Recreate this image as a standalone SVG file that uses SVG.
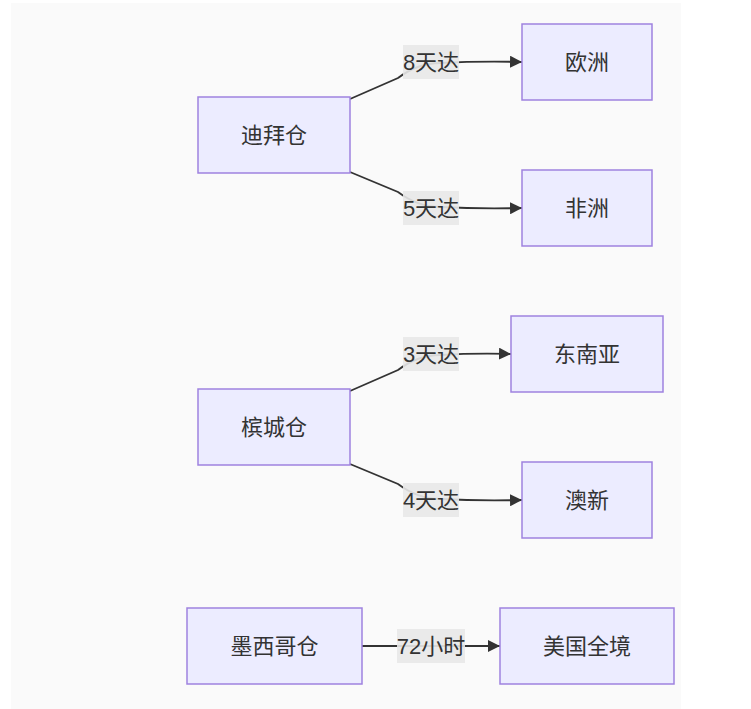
<svg xmlns="http://www.w3.org/2000/svg" width="751" height="709" viewBox="0 0 751 709">
<defs>
<style>
.node rect{fill:#ECECFF;stroke:#9f82df;stroke-width:1.5}
.t{font-family:"Liberation Sans","Noto Sans CJK SC",sans-serif;font-size:22px;fill:#333;text-anchor:middle;dominant-baseline:central}
.edge{fill:none;stroke:#333;stroke-width:1.8}
.lbl rect{fill:#e8e8e8;opacity:0.9}
</style>
<marker id="arr" viewBox="0 0 10 10" refX="10" refY="5" markerWidth="12" markerHeight="12" markerUnits="userSpaceOnUse" orient="auto">
<path d="M0,0 L10,5 L0,10 z" fill="#333"/>
</marker>
</defs>
<rect x="0" y="0" width="751" height="709" fill="#ffffff"/>
<rect x="11" y="3" width="670" height="706" fill="#fafafa"/>
<g id="connectors">
<path class="edge" d="M350,99 L398,78 Q418,63 440,63 Q480,61 522,62" marker-end="url(#arr)"/>
<path class="edge" d="M350,172 L398,192 Q418,207 440,207 Q480,209 522,208" marker-end="url(#arr)"/>
<path class="edge" d="M350,391 L398,370 Q418,355 440,355 Q475,353 511,354" marker-end="url(#arr)"/>
<path class="edge" d="M350,464 L398,484 Q418,499 440,499 Q480,501 522,500" marker-end="url(#arr)"/>
<path class="edge" d="M362,646 L500,646" marker-end="url(#arr)"/>
</g>
<g id="edge-labels">
<g class="lbl"><rect x="403" y="45" width="56" height="34"/><text class="t" x="431" y="62">8天达</text></g>
<g class="lbl"><rect x="403" y="191" width="56" height="34"/><text class="t" x="431" y="208">5天达</text></g>
<g class="lbl"><rect x="403" y="337" width="56" height="34"/><text class="t" x="431" y="354">3天达</text></g>
<g class="lbl"><rect x="397" y="629" width="68" height="34"/><text class="t" x="431" y="646">72小时</text></g>
<g class="lbl"><rect x="403" y="483" width="56" height="34"/><text class="t" x="431" y="500">4天达</text></g>
</g>
<g id="n-dubai" class="node"><rect x="198" y="97" width="152" height="76"/><text class="t" x="274" y="135">迪拜仓</text></g>
<g id="n-europe" class="node"><rect x="522" y="24" width="130" height="76"/><text class="t" x="587" y="62">欧洲</text></g>
<g id="n-africa" class="node"><rect x="522" y="170" width="130" height="76"/><text class="t" x="587" y="208">非洲</text></g>
<g id="n-penang" class="node"><rect x="198" y="389" width="152" height="76"/><text class="t" x="274" y="427">槟城仓</text></g>
<g id="n-sea" class="node"><rect x="511" y="316" width="152" height="76"/><text class="t" x="587" y="354">东南亚</text></g>
<g id="n-anz" class="node"><rect x="522" y="462" width="130" height="76"/><text class="t" x="587" y="500">澳新</text></g>
<g id="n-mexico" class="node"><rect x="187" y="608" width="175" height="76"/><text class="t" x="274.5" y="646">墨西哥仓</text></g>
<g id="n-usa" class="node"><rect x="500" y="608" width="174" height="76"/><text class="t" x="587" y="646">美国全境</text></g>
</svg>
